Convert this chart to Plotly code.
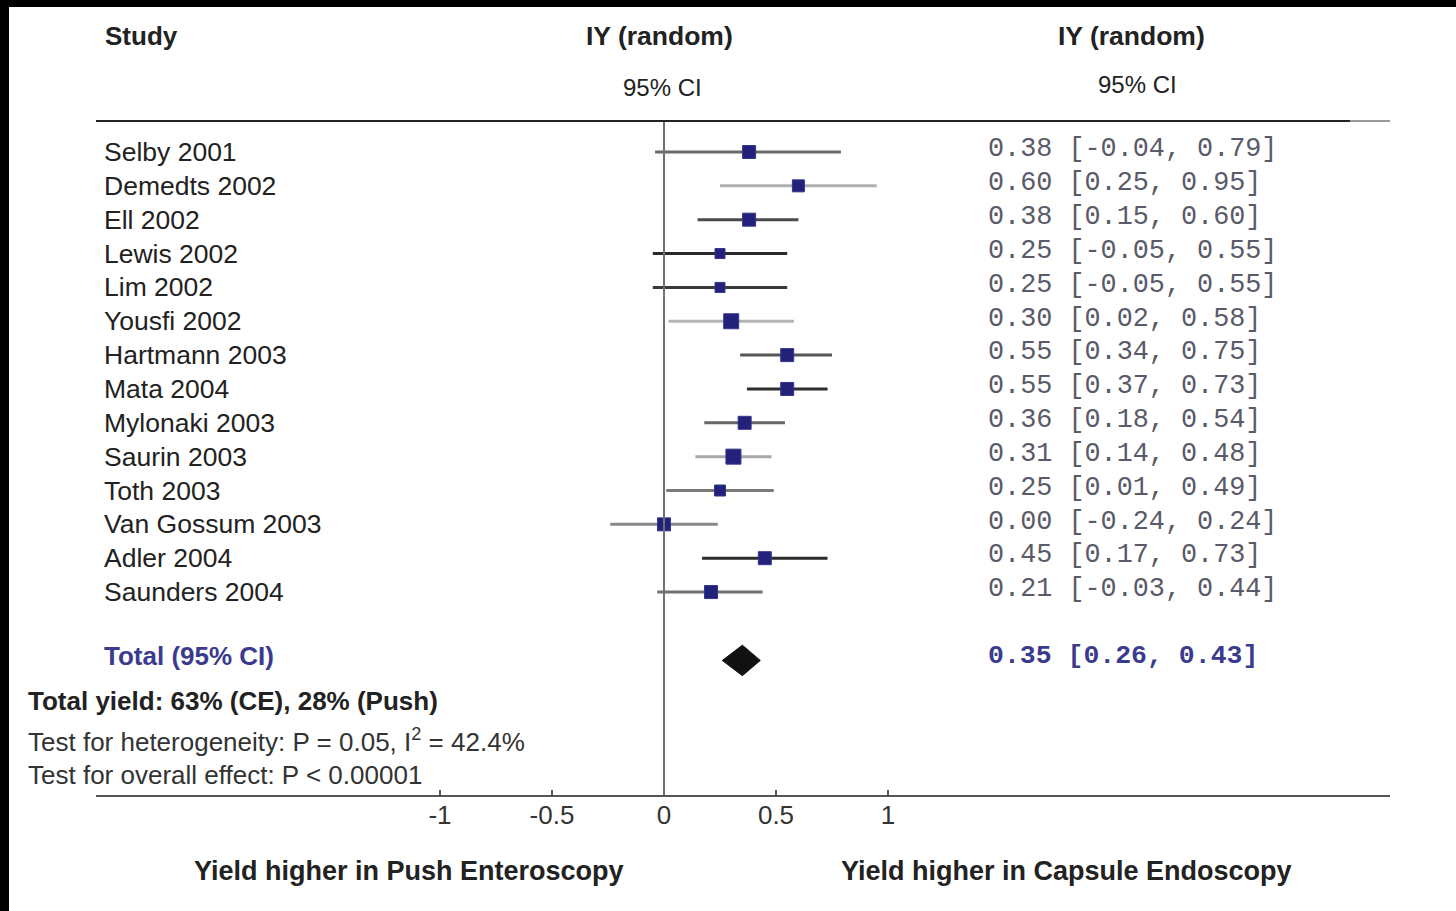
import plotly.graph_objects as go

# ---------------- data ----------------
studies = ["Selby 2001", "Demedts 2002", "Ell 2002", "Lewis 2002", "Lim 2002",
           "Yousfi 2002", "Hartmann 2003", "Mata 2004", "Mylonaki 2003",
           "Saurin 2003", "Toth 2003", "Van Gossum 2003", "Adler 2004",
           "Saunders 2004"]
estimate = [0.38, 0.60, 0.38, 0.25, 0.25, 0.30, 0.55, 0.55, 0.36, 0.31, 0.25, 0.00, 0.45, 0.21]
ci_low = [-0.04, 0.25, 0.15, -0.05, -0.05, 0.02, 0.34, 0.37, 0.18, 0.14, 0.01, -0.24, 0.17, -0.03]
ci_high = [0.79, 0.95, 0.60, 0.55, 0.55, 0.58, 0.75, 0.73, 0.54, 0.48, 0.49, 0.24, 0.73, 0.44]
weight_size = [13, 12, 13, 10, 10, 15, 13, 13, 13, 15, 11, 13, 13, 13]

total_label = "Total (95% CI)"
total_est, total_low, total_high = 0.35, 0.26, 0.43

tick_vals = [-1, -0.5, 0, 0.5, 1]
tick_text = ["-1", "-0.5", "0", "0.5", "1"]

# ---------------- styles ----------------
line_colors = ["#6a6a6a", "#b0b0b0", "#4a4a4a", "#2a2a2a", "#3a3a3a", "#b4b4b4", "#555555",
               "#2e2e2e", "#666666", "#a8a8a8", "#7a7a7a", "#888888", "#2a2a2a", "#707070"]
SQ = "#22227a"
NAVY = "#3b3b8e"
FIG_W, FIG_H = 1456, 911
PX_ZERO, PX_PER_UNIT = 664, 224      # pixel of x=0 and pixels per unit
AX_L, AX_R, AX_Y = 96, 1390, 795     # axis line extent & position
ROW0, ROW_STEP = 152, 33.85          # first row pixel & row spacing
TOTAL_ROW = 14.9
DIAMOND_ROW = 15.02

def px_x(p):
    return p / FIG_W

def px_y(p):
    return 1 - p / FIG_H

x_range = [(AX_L - PX_ZERO) / PX_PER_UNIT, (AX_R - PX_ZERO) / PX_PER_UNIT]
y_range = [(AX_Y - ROW0) / ROW_STEP, (0 - ROW0) / ROW_STEP]

SANS = "Liberation Sans, Arial, sans-serif"
MONO = "Liberation Mono, Courier New, monospace"

fig = go.Figure()

rows = list(range(len(studies)))

# CI lines
for i in rows:
    fig.add_trace(go.Scatter(x=[ci_low[i], ci_high[i]], y=[i, i], mode="lines",
                             line=dict(color=line_colors[i], width=3),
                             showlegend=False, hoverinfo="skip"))
# squares
fig.add_trace(go.Scatter(x=estimate, y=rows, mode="markers",
                         marker=dict(symbol="square", size=weight_size, color=SQ, opacity=1,
                                     line=dict(color="#34348f", width=1)),
                         opacity=1, showlegend=False, hoverinfo="skip"))
# diamond
dh = 0.45
fig.add_trace(go.Scatter(x=[total_low, total_est, total_high, total_est, total_low],
                         y=[DIAMOND_ROW, DIAMOND_ROW - dh, DIAMOND_ROW, DIAMOND_ROW + dh, DIAMOND_ROW],
                         mode="lines", fill="toself", fillcolor="#111111",
                         line=dict(color="#111111", width=1),
                         showlegend=False, hoverinfo="skip"))

ann = []
# study labels and values
for i in rows:
    ann.append(dict(x=px_x(102), xref="paper", y=i, yref="y", text=studies[i],
                    xanchor="left", yanchor="middle", showarrow=False,
                    font=dict(family=SANS, size=26.5, color="#222222")))
    ann.append(dict(x=px_x(986), xref="paper", y=i - 0.08, yref="y",
                    text=f"{estimate[i]:.2f} [{ci_low[i]:.2f}, {ci_high[i]:.2f}]",
                    xanchor="left", yanchor="middle", showarrow=False,
                    font=dict(family=MONO, size=26.8, color="#5a5a68")))
ann.append(dict(x=px_x(102), xref="paper", y=TOTAL_ROW, yref="y",
                text=f"<b>{total_label}</b>", xanchor="left", yanchor="middle",
                showarrow=False, font=dict(family=SANS, size=26, color=NAVY)))
ann.append(dict(x=px_x(986), xref="paper", y=TOTAL_ROW, yref="y",
                text=f"<b>{total_est:.2f} [{total_low:.2f}, {total_high:.2f}]</b>",
                xanchor="left", yanchor="middle", showarrow=False,
                font=dict(family=MONO, size=26.5, color=NAVY)))

def txt(px, py, text, size=25, anchor="center", color="#222222", family=SANS):
    ann.append(dict(x=px_x(px), xref="paper", y=px_y(py), yref="paper", text=text,
                    xanchor=anchor, yanchor="middle", showarrow=False,
                    font=dict(family=family, size=size, color=color)))

# headers
txt(103, 36, "<b>Study</b>", size=26, anchor="left")
txt(659, 36, "<b>IY (random)</b>", size=26.5)
txt(662, 87, "95% CI", size=24)
txt(1131, 36, "<b>IY (random)</b>", size=26.5)
txt(1137, 84, "95% CI", size=24)

# footer stats
txt(26, 701, "<b>Total yield: 63% (CE), 28% (Push)</b>", size=26, anchor="left")
txt(26, 740, "Test for heterogeneity: P = 0.05, I<sup>2</sup> = 42.4%", size=26, anchor="left", color="#333333")
txt(26, 775, "Test for overall effect: P < 0.00001", size=26, anchor="left", color="#333333")

# bottom labels
txt(409, 871, "<b>Yield higher in Push Enteroscopy</b>", size=27)
txt(1066, 871, "<b>Yield higher in Capsule Endoscopy</b>", size=27)

shapes = [
    # zero line
    dict(type="line", xref="x", yref="paper", x0=0, x1=0, y0=px_y(AX_Y), y1=px_y(121),
         line=dict(color="#707070", width=2)),
    # header rule
    dict(type="line", xref="paper", yref="paper", x0=px_x(96), x1=px_x(1350),
         y0=px_y(121), y1=px_y(121), line=dict(color="#222222", width=2)),
    dict(type="line", xref="paper", yref="paper", x0=px_x(1350), x1=px_x(1390),
         y0=px_y(121), y1=px_y(121), line=dict(color="#9a9a9a", width=2)),
    # black border (top and left)
    dict(type="rect", xref="paper", yref="paper", x0=0, x1=1, y0=px_y(7), y1=1,
         fillcolor="black", line=dict(width=0), layer="above"),
    dict(type="rect", xref="paper", yref="paper", x0=0, x1=px_x(9), y0=0, y1=1,
         fillcolor="black", line=dict(width=0), layer="above"),
]

fig.update_layout(
    width=FIG_W, height=FIG_H,
    margin=dict(l=0, r=0, t=0, b=0),
    paper_bgcolor="white", plot_bgcolor="white",
    annotations=ann, shapes=shapes,
    xaxis=dict(domain=[px_x(AX_L), px_x(AX_R)], range=x_range, showgrid=False,
               zeroline=False, showline=True, linecolor="#555555", linewidth=2,
               ticks="inside", ticklen=5, tickwidth=2, tickcolor="#555555",
               tickvals=tick_vals, ticktext=tick_text, ticklabelstandoff=-4,
               tickfont=dict(family=SANS, size=26, color="#333333"), fixedrange=True),
    yaxis=dict(domain=[px_y(AX_Y), 1], range=y_range, visible=False,
               showgrid=False, zeroline=False, fixedrange=True),
    showlegend=False,
)

fig.write_html("out.html", post_script="document.body.style.margin='0';",
               config={"displayModeBar": False})
